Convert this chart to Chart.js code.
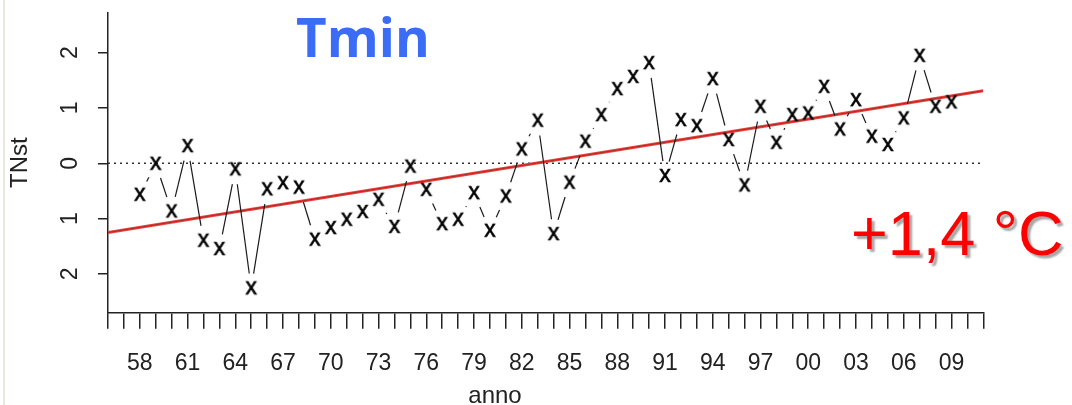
<!DOCTYPE html>
<html lang="it">
<head>
<meta charset="utf-8">
<title>Tmin - TNst</title>
<script src="https://cdn.jsdelivr.net/npm/chart.js@4.4.1/dist/chart.umd.min.js"></script>
<style>
  html, body { margin: 0; padding: 0; background: #fff; }
  #wrap { position: relative; width: 1072px; height: 405px; }
  #grafico { display: block; }
  #bordo { position: absolute; left: 3px; top: 0; width: 2px; height: 405px; background: #ece8e0; }
</style>
</head>
<body>
<div id="wrap">
  <canvas id="grafico" width="1072" height="405"></canvas>
  <div id="bordo"></div>
</div>
<script>
// Temperatura minima standardizzata (TNst), valori annui 1958-2009
var anni = [1958, 1959, 1960, 1961, 1962, 1963, 1964, 1965, 1966, 1967,
            1968, 1969, 1970, 1971, 1972, 1973, 1974, 1975, 1976, 1977,
            1978, 1979, 1980, 1981, 1982, 1983, 1984, 1985, 1986, 1987,
            1988, 1989, 1990, 1991, 1992, 1993, 1994, 1995, 1996, 1997,
            1998, 1999, 2000, 2001, 2002, 2003, 2004, 2005, 2006, 2007,
            2008, 2009];
var tnst = [-0.57, -0.01, -0.87, 0.31, -1.40, -1.55, -0.11, -2.26, -0.47, -0.36,
            -0.44, -1.38, -1.17, -1.02, -0.88, -0.66, -1.15, -0.06, -0.48, -1.10,
            -1.02, -0.54, -1.22, -0.60, 0.25, 0.77, -1.28, -0.35, 0.39, 0.87,
            1.34, 1.56, 1.81, -0.23, 0.78, 0.67, 1.52, 0.42, -0.40, 1.02,
            0.37, 0.87, 0.90, 1.38, 0.61, 1.14, 0.48, 0.33, 0.81, 1.94,
            1.02, 1.10];

// retta di tendenza (estremi)
var trendAnni = [1956, 2011];
var trendValori = [-1.25, 1.31];

// linea dello zero
var zeroAnni = [1956, 2011];
var zeroValori = [0, 0];

// etichette asse x (ogni 3 anni)
var etichetteAnni = [1958, 1961, 1964, 1967, 1970, 1973, 1976, 1979, 1982,
                     1985, 1988, 1991, 1994, 1997, 2000, 2003, 2006, 2009];
var etichetteTesto = ['58', '61', '64', '67', '70', '73', '76', '79', '82',
                      '85', '88', '91', '94', '97', '00', '03', '06', '09'];

// etichette asse y
var yTickValori = [-2, -1, 0, 1, 2];
var yTickTesto = ['2', '1', '0', '1', '2'];

var FONT = '"Liberation Sans", Arial, Helvetica, sans-serif';

function coppie(xs, ys) {
  return xs.map(function(x, i) { return { x: x, y: ys[i] }; });
}

// simbolo "x" come in un plot di R (pch = "x")
function creaSimboloX() {
  var c = document.createElement('canvas');
  c.width = 16;
  c.height = 18;
  var g = c.getContext('2d');
  g.fillStyle = '#000';
  g.strokeStyle = '#000';
  g.lineWidth = 0.6;
  g.font = '23px ' + FONT;
  g.textAlign = 'center';
  g.textBaseline = 'alphabetic';
  g.fillText('x', 8, 15);
  g.strokeText('x', 8, 15);
  return c;
}

// segmenti tra i punti interrotti vicino ai simboli (type = "b")
var segmentiConGap = {
  id: 'segmentiConGap',
  afterDatasetsDraw: function(chart) {
    var meta = chart.getDatasetMeta(0);
    var ctx = chart.ctx;
    var gap = 15;
    ctx.save();
    ctx.strokeStyle = '#1a1a1a';
    ctx.lineWidth = 1.2;
    for (var i = 0; i < meta.data.length - 1; i++) {
      var p = meta.data[i], q = meta.data[i + 1];
      var dx = q.x - p.x, dy = q.y - p.y;
      var len = Math.sqrt(dx * dx + dy * dy);
      if (len <= 2 * gap) continue;
      var ux = dx / len, uy = dy / len;
      ctx.beginPath();
      ctx.moveTo(p.x + ux * gap, p.y + uy * gap);
      ctx.lineTo(q.x - ux * gap, q.y - uy * gap);
      ctx.stroke();
    }
    ctx.restore();
  }
};

// titolo, variazione e nome asse x
var testi = {
  id: 'testi',
  afterDraw: function(chart) {
    var ctx = chart.ctx;
    ctx.save();
    ctx.textBaseline = 'alphabetic';

    ctx.font = '700 53px "Open Sans", Arial, sans-serif';
    ctx.fillStyle = '#3b6cf6';
    ctx.textAlign = 'left';
    ctx.fillText('Tmin', 296, 57);

    ctx.font = '63px ' + FONT;
    ctx.shadowColor = 'rgba(0,0,0,0.35)';
    ctx.shadowOffsetX = 3;
    ctx.shadowOffsetY = 3;
    ctx.shadowBlur = 2;
    ctx.fillStyle = '#ff0000';
    ctx.fillText('+1,4 \u00B0C', 851, 255);

    ctx.shadowColor = 'transparent';
    ctx.font = '24px ' + FONT;
    ctx.fillStyle = '#222';
    ctx.textAlign = 'center';
    ctx.fillText('anno', 495, 403);
    ctx.restore();
  }
};

var ctx = document.getElementById('grafico').getContext('2d');
new Chart(ctx, {
  type: 'line',
  data: {
    datasets: [
      {
        label: 'TNst',
        data: coppie(anni, tnst),
        showLine: false,
        pointStyle: creaSimboloX(),
        pointRadius: 5,
        order: 0
      },
      {
        label: 'zero',
        data: coppie(zeroAnni, zeroValori),
        borderColor: '#333',
        borderWidth: 1.5,
        borderDash: [2, 4],
        pointRadius: 0,
        order: 3
      },
      {
        label: 'trend',
        data: coppie(trendAnni, trendValori),
        borderColor: '#e8433d',
        borderWidth: 3,
        pointRadius: 0,
        order: 2
      },
      {
        label: 'trend-centro',
        data: coppie(trendAnni, trendValori),
        borderColor: 'rgba(130,20,20,0.55)',
        borderWidth: 1,
        pointRadius: 0,
        order: 1
      }
    ]
  },
  options: {
    responsive: false,
    animation: false,
    devicePixelRatio: 1,
    layout: { padding: { left: 0, top: 12.7, right: 88.7, bottom: 0 } },
    plugins: {
      legend: { display: false },
      tooltip: { enabled: false }
    },
    scales: {
      x: {
        type: 'linear',
        min: 1956,
        max: 2011,
        afterFit: function(scale) {
          scale.height = 92.3;
          scale.paddingLeft = 0;
          scale.paddingRight = 0;
        },
        grid: { drawOnChartArea: false, drawTicks: true, tickLength: 16, color: '#222', lineWidth: 1.5 },
        border: { display: true, color: '#222', width: 1.5 },
        ticks: {
          stepSize: 1,
          autoSkip: false,
          maxRotation: 0,
          minRotation: 0,
          padding: 21,
          color: '#222',
          font: { family: FONT, size: 23 },
          callback: function(v) {
            var i = etichetteAnni.indexOf(v);
            return i >= 0 ? etichetteTesto[i] : '';
          }
        }
      },
      y: {
        type: 'linear',
        min: -2.7,
        max: 2.72,
        afterFit: function(scale) {
          scale.width = 108;
          scale.paddingTop = 0;
          scale.paddingBottom = 0;
        },
        afterBuildTicks: function(scale) {
          scale.ticks = yTickValori.map(function(v) { return { value: v }; });
        },
        grid: { drawOnChartArea: false, drawTicks: true, tickLength: 10, color: '#222', lineWidth: 1.5 },
        border: { display: true, color: '#222', width: 1.5 },
        ticks: {
          minRotation: 90,
          maxRotation: 90,
          crossAlign: 'center',
          padding: 21,
          color: '#222',
          font: { family: FONT, size: 23 },
          callback: function(v) {
            var i = yTickValori.indexOf(v);
            return i >= 0 ? yTickTesto[i] : '';
          }
        },
        title: {
          display: true,
          text: 'TNst',
          color: '#222',
          font: { family: FONT, size: 24 },
          padding: { top: 6, bottom: 0 }
        }
      }
    }
  },
  plugins: [segmentiConGap, testi]
});
</script>
</body>
</html>
